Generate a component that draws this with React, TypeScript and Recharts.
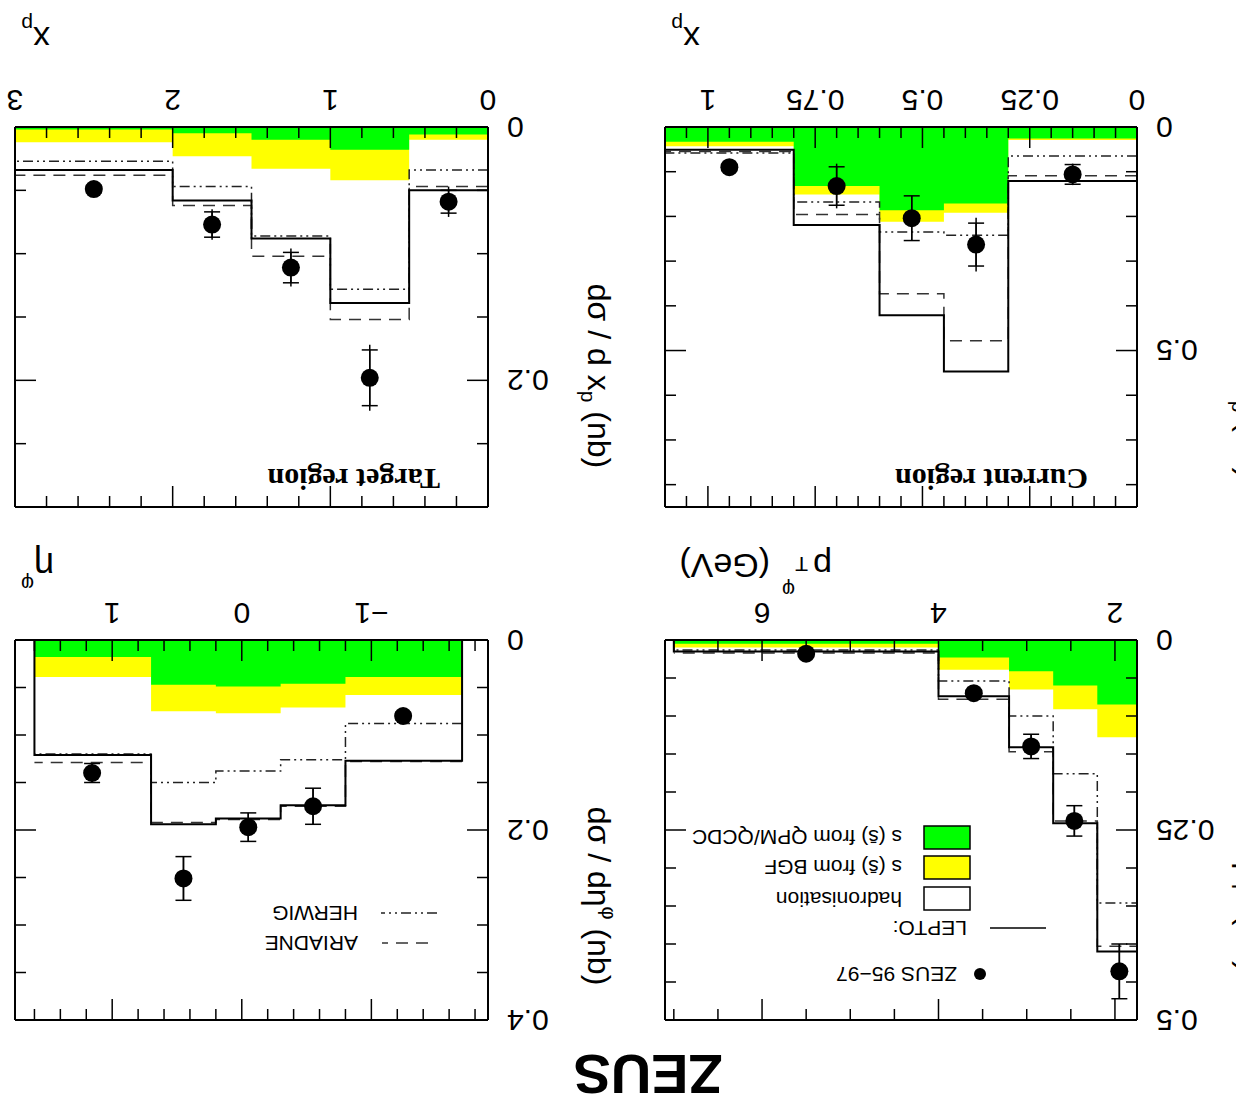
import React from 'react'
import { Area, ComposedChart, ErrorBar, Line, Scatter, XAxis, YAxis } from 'recharts'

const SANS = '"Liberation Sans", Arial, Helvetica, sans-serif'
const SERIF = '"Liberation Serif", "Times New Roman", serif'

// current region, x_p
const curEdges = [0, 0.3, 0.45, 0.6, 0.8, 1.1]
const curQpm = [0.026, 0.171, 0.186, 0.132, 0.033]
const curBgf = [0.029, 0.192, 0.212, 0.151, 0.043]
const curLepto = [0.121, 0.547, 0.421, 0.219, 0.051]
const curAriadne = [0.109, 0.478, 0.373, 0.196, 0.055]
const curHerwig = [0.065, 0.242, 0.235, 0.168, 0.058]
const curX = [0.15, 0.375, 0.525, 0.7, 0.95]
const curY = [0.106, 0.263, 0.204, 0.132, 0.09]
const curStat = [0.022, 0.048, 0.05, 0.043, 0.004]
const curTot = [0.024, 0.06, 0.05, 0.05, 0.004]
const curXTicks = [0, 0.05, 0.1, 0.15, 0.2, 0.25, 0.3, 0.35, 0.4, 0.45, 0.5, 0.55, 0.6, 0.65, 0.7, 0.75, 0.8, 0.85, 0.9, 0.95, 1, 1.05]
const curXLabels = [0, 0.25, 0.5, 0.75, 1]
const curYTicks = [0, 0.1, 0.2, 0.3, 0.4, 0.5, 0.6, 0.7, 0.8]
const curYLabels = [0, 0.5]

// target region, x_p
const tgtEdges = [0, 0.5, 1, 1.5, 2, 3]
const tgtQpm = [0.006, 0.018, 0.01, 0.005, 0.002]
const tgtBgf = [0.01, 0.042, 0.033, 0.023, 0.012]
const tgtLepto = [0.05, 0.139, 0.088, 0.058, 0.034]
const tgtAriadne = [0.047, 0.152, 0.102, 0.062, 0.038]
const tgtHerwig = [0.034, 0.128, 0.086, 0.047, 0.027]
const tgtX = [0.25, 0.75, 1.25, 1.75, 2.5]
const tgtY = [0.059, 0.198, 0.111, 0.077, 0.049]
const tgtStat = [0.009, 0.022, 0.012, 0.01, 0.003]
const tgtTot = [0.012, 0.026, 0.015, 0.012, 0.003]
const tgtXTicks = [0, 0.2, 0.4, 0.6, 0.8, 1, 1.2, 1.4, 1.6, 1.8, 2, 2.2, 2.4, 2.6, 2.8, 3]
const tgtXLabels = [0, 1, 2, 3]
const tgtYTicks = [0, 0.05, 0.1, 0.15, 0.2, 0.25]
const tgtYLabels = [0, 0.2]

// eta^phi
const etaEdges = [-1.7, -0.8, -0.3, 0.2, 0.7, 1.6]
const etaQpm = [0.039, 0.046, 0.049, 0.047, 0.018]
const etaBgf = [0.058, 0.071, 0.077, 0.075, 0.039]
const etaLepto = [0.127, 0.174, 0.188, 0.194, 0.121]
const etaAriadne = [0.128, 0.175, 0.189, 0.192, 0.129]
const etaHerwig = [0.088, 0.126, 0.138, 0.15, 0.12]
const etaX = [-1.245, -0.55, -0.05, 0.45, 1.155]
const etaY = [0.08, 0.175, 0.197, 0.251, 0.14]
const etaStat = [0.004, 0.019, 0.015, 0.023, 0.01]
const etaTot = [0.004, 0.019, 0.015, 0.023, 0.01]
const etaXTicks = [-1.8, -1.6, -1.4, -1.2, -1, -0.8, -0.6, -0.4, -0.2, 0, 0.2, 0.4, 0.6, 0.8, 1, 1.2, 1.4, 1.6]
const etaXLabels = [-1, 0, 1]
const etaYTicks = [0, 0.05, 0.1, 0.15, 0.2, 0.25, 0.3, 0.35, 0.4]
const etaYLabels = [0, 0.2, 0.4]

// p_T^phi
const ptEdges = [1.7, 2.2, 2.7, 3.2, 4, 7]
const ptQpm = [0.085, 0.06, 0.041, 0.023, 0.005]
const ptBgf = [0.128, 0.091, 0.065, 0.039, 0.01]
const ptLepto = [0.41, 0.241, 0.141, 0.074, 0.015]
const ptAriadne = [0.403, 0.238, 0.147, 0.078, 0.017]
const ptHerwig = [0.346, 0.176, 0.1, 0.054, 0.013]
const ptX = [1.95, 2.46, 2.95, 3.6, 5.5]
const ptY = [0.436, 0.238, 0.14, 0.07, 0.018]
const ptStat = [0.036, 0.02, 0.016, 0.004, 0.003]
const ptTot = [0.036, 0.02, 0.016, 0.004, 0.003]
const ptXTicks = [2, 2.5, 3, 3.5, 4, 4.5, 5, 5.5, 6, 6.5, 7]
const ptXLabels = [2, 4, 6]
const ptYTicks = [0, 0.05, 0.1, 0.15, 0.2, 0.25, 0.3, 0.35, 0.4, 0.45, 0.5]
const ptYLabels = [0, 0.25, 0.5]

function histRows(edges: number[], qpm: number[], bgf: number[], lepto: number[], ariadne: number[], herwig: number[]) {
  const n = qpm.length
  const rows: any[] = [{ x: edges[0], qpm: 0, bgf: 0, lepto: 0, ariadne: null, herwig: null }]
  for (let i = 0; i < n; i++) {
    rows.push({ x: edges[i], qpm: qpm[i], bgf: bgf[i], lepto: lepto[i], ariadne: ariadne[i], herwig: herwig[i] })
  }
  rows.push({ x: edges[n], qpm: qpm[n - 1], bgf: bgf[n - 1], lepto: lepto[n - 1], ariadne: ariadne[n - 1], herwig: herwig[n - 1] })
  rows.push({ x: edges[n], qpm: 0, bgf: 0, lepto: 0, ariadne: null, herwig: null })
  return rows
}

const fmt = (v: number) => (v < 0 ? '\u2212' + Math.abs(v) : String(v))

function tickFn(side: 'bottom' | 'top' | 'left' | 'right', labels: number[]) {
  return (p: any) => {
    const v = p.payload.value
    const major = labels.some((m) => Math.abs(m - v) < 1e-9)
    const len = major ? 21 : 11
    const { x, y } = p
    const ln = { stroke: '#000', strokeWidth: 1.5 }
    const txt = { fontSize: 30, fontFamily: SANS, fill: '#000' }
    if (side === 'bottom') {
      return (
        <g>
          <line x1={x} y1={y} x2={x} y2={y - len} {...ln} />
          {major && <text x={x} y={y + 27} textAnchor="middle" dominantBaseline="central" {...txt}>{fmt(v)}</text>}
        </g>
      )
    }
    if (side === 'top') return <line x1={x} y1={y} x2={x} y2={y + len} {...ln} />
    if (side === 'left') {
      return (
        <g>
          <line x1={x} y1={y} x2={x + len} y2={y} {...ln} />
          {major && <text x={x - 19} y={y} textAnchor="end" dominantBaseline="central" {...txt}>{fmt(v)}</text>}
        </g>
      )
    }
    return <line x1={x} y1={y} x2={x - len} y2={y} {...ln} />
  }
}

const dotShape = (p: any) => <circle cx={p.cx} cy={p.cy} r={9} fill="#000" />

function Panel(props: any) {
  const { left, top, width, height, edges, qpm, bgf, lepto, ariadne, herwig, px, py, stat, tot, xDomain, yDomain, xTicks, xLabels, yTicks, yLabels } = props
  const rows = histRows(edges, qpm, bgf, lepto, ariadne, herwig)
  const pts = px.map((x: number, i: number) => ({ x, y: py[i], stat: stat[i], tot: tot[i] }))
  const frame = { stroke: '#000', strokeWidth: 2 }
  return (
    <div style={{ position: 'absolute', left: left - 90, top: top - 30 }}>
      <ComposedChart width={width + 112} height={height + 90} data={rows} margin={{ top: 28, right: 20, bottom: 0, left: 0 }}>
        <Area type="stepAfter" dataKey="bgf" fill="#ffff00" fillOpacity={1} stroke="none" dot={false} activeDot={false} isAnimationActive={false} />
        <Area type="stepAfter" dataKey="qpm" fill="#00ff00" fillOpacity={1} stroke="none" dot={false} activeDot={false} isAnimationActive={false} />
        <Line type="stepAfter" dataKey="herwig" stroke="#222" strokeWidth={1.5} strokeDasharray="10 4 2 4 2 4" dot={false} activeDot={false} isAnimationActive={false} />
        <Line type="stepAfter" dataKey="ariadne" stroke="#333" strokeWidth={1.5} strokeDasharray="12 8" dot={false} activeDot={false} isAnimationActive={false} />
        <Line type="stepAfter" dataKey="lepto" stroke="#000" strokeWidth={2} dot={false} activeDot={false} isAnimationActive={false} />
        <Scatter data={pts} dataKey="y" shape={dotShape} isAnimationActive={false}>
          <ErrorBar dataKey="tot" direction="y" width={0} stroke="#000" strokeWidth={1.5} />
          <ErrorBar dataKey="stat" direction="y" width={8} stroke="#000" strokeWidth={1.5} />
        </Scatter>
        <XAxis dataKey="x" type="number" domain={xDomain} allowDataOverflow ticks={xTicks} interval={0} height={60} tickSize={0} tickMargin={0} tickLine={false} axisLine={frame} tick={tickFn('bottom', xLabels)} />
        <XAxis xAxisId="t" dataKey="x" orientation="top" type="number" domain={xDomain} allowDataOverflow ticks={xTicks} interval={0} height={2} tickSize={0} tickMargin={0} tickLine={false} axisLine={frame} tick={tickFn('top', xLabels)} />
        <YAxis type="number" domain={yDomain} allowDataOverflow ticks={yTicks} interval={0} width={90} tickSize={0} tickMargin={0} tickLine={false} axisLine={frame} tick={tickFn('left', yLabels)} />
        <YAxis yAxisId="r" orientation="right" type="number" domain={yDomain} allowDataOverflow ticks={yTicks} interval={0} width={2} tickSize={0} tickMargin={0} tickLine={false} axisLine={frame} tick={tickFn('right', yLabels)} />
      </ComposedChart>
    </div>
  )
}

function Overlay() {
  const t = { fontFamily: SANS, fill: '#000' }
  const leg = { fontFamily: SANS, fontSize: 21, fill: '#000', dominantBaseline: 'central' as const }
  return (
    <svg width={1236} height={1112} style={{ position: 'absolute', left: 0, top: 0, pointerEvents: 'none' }}>
      <text x={588} y={57} textAnchor="middle" fontSize={56} fontWeight="bold" {...t}>ZEUS</text>

      {/* axis titles */}
      <text x={536} y={1085} fontSize={34} {...t}>x<tspan dy={10} fontSize={21}>p</tspan></text>
      <text x={1186} y={1085} fontSize={34} {...t}>x<tspan dy={10} fontSize={21}>p</tspan></text>
      <text x={1182} y={559} fontSize={36} {...t}>η<tspan dy={-24} fontSize={20}>φ</tspan></text>
      <text fontSize={34} {...t}>
        <tspan x={404} y={558}>p</tspan>
        <tspan x={428} y={555} fontSize={21}>T</tspan>
        <tspan x={441} y={529} fontSize={20}>φ</tspan>
        <tspan x={466} y={558}>(GeV)</tspan>
      </text>

      <g transform="translate(648,736) rotate(-90)">
        <text textAnchor="middle" fontSize={32} {...t}>dσ / d x<tspan dy={7} fontSize={21}>p</tspan><tspan dy={-7}> (nb)</tspan></text>
      </g>
      <g transform="translate(648,216) rotate(-90)">
        <text textAnchor="middle" fontSize={32} {...t}>dσ / dη<tspan dy={-14} fontSize={20}>φ</tspan><tspan dy={14}> (nb)</tspan></text>
      </g>
      {/* titles of the left column, mostly beyond the page edge */}
      <g transform="translate(-3,726) rotate(-90)">
        <text textAnchor="middle" fontSize={32} {...t}>dσ / d x<tspan dy={7} fontSize={21}>p</tspan><tspan dy={-7}> (nb)</tspan></text>
      </g>
      <g transform="translate(-3,236) rotate(-90)">
        <text textAnchor="middle" fontSize={32} {...t}>dσ / dp<tspan dy={7} fontSize={21}>T</tspan><tspan dy={-21} fontSize={20}>φ</tspan><tspan dy={14}> (nb)</tspan></text>
      </g>

      {/* region labels */}
      <text x={148} y={643} fontSize={30} fontWeight="bold" fontFamily={SERIF}>Current region</text>
      <text x={796} y={643} fontSize={30} fontWeight="bold" fontFamily={SERIF}>Target region</text>

      {/* model legend in eta panel */}
      <line x1={808} y1={169} x2={854} y2={169} stroke="#333" strokeWidth={1.5} strokeDasharray="12 8" />
      <text x={878} y={169} {...leg}>ARIADNE</text>
      <line x1={799} y1={199} x2={855} y2={199} stroke="#222" strokeWidth={1.5} strokeDasharray="10 4 2 4 2 4" />
      <text x={878} y={199} {...leg}>HERWIG</text>

      {/* main legend in pT panel */}
      <circle cx={256} cy={138} r={6} fill="#000" />
      <text x={279} y={138} {...leg}>ZEUS 95−97</text>
      <line x1={190} y1={184} x2={246} y2={184} stroke="#000" strokeWidth={1.5} />
      <text x={269} y={184} {...leg}>LEPTO:</text>
      <rect x={266} y={202} width={46} height={23} fill="#fff" stroke="#000" strokeWidth={1.5} />
      <text x={334} y={213} {...leg}>hadronisation</text>
      <rect x={266} y={233} width={46} height={23} fill="#ffff00" stroke="#000" strokeWidth={1.5} />
      <text x={334} y={245} {...leg}>s (s̄) from BGF</text>
      <rect x={266} y={263} width={46} height={23} fill="#00ff00" stroke="#000" strokeWidth={1.5} />
      <text x={334} y={275} {...leg}>s (s̄) from QPM/QCDC</text>
    </svg>
  )
}

export default function App() {
  return (
    <div style={{ position: 'absolute', left: 0, top: 0, width: 1236, height: 1112, background: '#fff', transform: 'rotate(180deg)', fontFamily: SANS, overflow: 'hidden' }}>
      <Panel left={99} top={605} width={472} height={380} edges={curEdges} qpm={curQpm} bgf={curBgf} lepto={curLepto} ariadne={curAriadne} herwig={curHerwig}
        px={curX} py={curY} stat={curStat} tot={curTot} xDomain={[0, 1.1]} yDomain={[0, 0.85]} xTicks={curXTicks} xLabels={curXLabels} yTicks={curYTicks} yLabels={curYLabels} />
      <Panel left={748} top={605} width={473} height={380} edges={tgtEdges} qpm={tgtQpm} bgf={tgtBgf} lepto={tgtLepto} ariadne={tgtAriadne} herwig={tgtHerwig}
        px={tgtX} py={tgtY} stat={tgtStat} tot={tgtTot} xDomain={[0, 3]} yDomain={[0, 0.3]} xTicks={tgtXTicks} xLabels={tgtXLabels} yTicks={tgtYTicks} yLabels={tgtYLabels} />
      <Panel left={748} top={92} width={473} height={380} edges={etaEdges} qpm={etaQpm} bgf={etaBgf} lepto={etaLepto} ariadne={etaAriadne} herwig={etaHerwig}
        px={etaX} py={etaY} stat={etaStat} tot={etaTot} xDomain={[-1.9, 1.75]} yDomain={[0, 0.4]} xTicks={etaXTicks} xLabels={etaXLabels} yTicks={etaYTicks} yLabels={etaYLabels} />
      <Panel left={99} top={92} width={472} height={380} edges={ptEdges} qpm={ptQpm} bgf={ptBgf} lepto={ptLepto} ariadne={ptAriadne} herwig={ptHerwig}
        px={ptX} py={ptY} stat={ptStat} tot={ptTot} xDomain={[1.75, 7.1]} yDomain={[0, 0.5]} xTicks={ptXTicks} xLabels={ptXLabels} yTicks={ptYTicks} yLabels={ptYLabels} />
      <Overlay />
    </div>
  )
}
